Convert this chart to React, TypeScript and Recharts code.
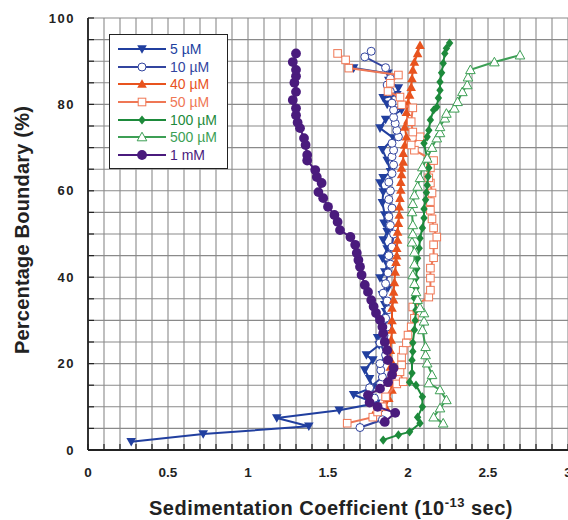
import React from 'react';
import { ScatterChart, Scatter, XAxis, YAxis, CartesianGrid, Legend, Label } from 'recharts';

type Pt = [number, number];

const xTicks = [
  0, 0.1, 0.2, 0.3, 0.4, 0.5, 0.6, 0.7, 0.8, 0.9, 1, 1.1, 1.2, 1.3, 1.4, 1.5,
  1.6, 1.7, 1.8, 1.9, 2, 2.1, 2.2, 2.3, 2.4, 2.5, 2.6, 2.7, 2.8, 2.9, 3,
];
const yTicks = [0, 5, 10, 15, 20, 25, 30, 35, 40, 45, 50, 55, 60, 65, 70, 75, 80, 85, 90, 95, 100];

// [sedimentation coefficient, % boundary]
const d5uM: Pt[] = [
  [0.27, 1.9], [0.72, 3.7], [1.38, 5.5], [1.18, 7.4], [1.57, 9.2], [1.8, 10.8], [1.66, 12.8],
  [1.78, 14.5], [1.76, 16.5], [1.73, 18.5], [1.78, 20.8], [1.74, 22], [1.82, 24.3], [1.81, 26],
  [1.84, 27.8], [1.82, 30], [1.86, 32], [1.855, 33.6], [1.84, 35.9], [1.875, 37.5], [1.825, 39.8],
  [1.855, 41.2], [1.87, 43], [1.84, 44.4], [1.87, 46.5], [1.845, 48.6], [1.87, 50.5], [1.85, 52.5],
  [1.855, 54.4], [1.84, 57.2], [1.845, 59.7], [1.825, 61.8], [1.845, 63], [1.89, 64.4], [1.87, 67],
  [1.84, 69.5], [1.91, 72.2], [1.825, 74.5], [1.86, 76.5], [1.96, 78.7], [1.87, 80], [1.845, 81.5],
  [1.93, 82.2], [1.94, 83.8], [1.88, 85.5], [1.875, 87.2], [1.66, 88.4],
];
const d10uM: Pt[] = [
  [1.7, 5.2], [1.84, 7], [1.82, 9.5], [1.79, 12], [1.76, 14.4], [1.84, 16.9], [1.83, 18.5],
  [1.825, 20], [1.86, 22], [1.825, 24.8], [1.85, 26.5], [1.87, 28.5], [1.86, 30.5], [1.88, 32.5],
  [1.87, 34.5], [1.845, 36.3], [1.86, 38.5], [1.875, 41], [1.89, 43], [1.88, 45], [1.9, 47],
  [1.91, 50], [1.89, 52], [1.88, 54], [1.9, 56], [1.88, 58], [1.89, 60], [1.88, 62], [1.9, 64],
  [1.91, 66], [1.9, 67.9], [1.91, 69.4], [1.9, 71], [1.94, 72.5], [1.93, 74], [1.92, 75.6],
  [1.91, 77], [1.91, 78.7], [1.9, 80.3], [1.89, 83], [1.87, 84.5], [1.89, 86], [1.86, 88.5],
  [1.73, 91], [1.77, 92.3],
];
const d40uM: Pt[] = [
  [1.78, 8], [1.86, 10], [1.88, 12], [1.9, 13.9], [1.89, 15.5], [1.895, 17.3], [1.89, 19.2],
  [1.89, 21], [1.89, 23.1], [1.895, 25.5], [1.9, 27.8], [1.9, 30], [1.9, 32.9], [1.91, 34.8],
  [1.91, 36.6], [1.915, 38.8], [1.92, 41.2], [1.925, 43.5], [1.93, 45], [1.93, 46.7], [1.935, 48.6],
  [1.935, 50.5], [1.94, 52.5], [1.945, 54.4], [1.945, 56.3], [1.95, 58.3], [1.955, 60.2],
  [1.955, 62], [1.96, 63.8], [1.96, 65.3], [1.97, 66.7], [1.97, 68.7], [1.98, 70.6], [1.99, 72.5],
  [1.98, 74.8], [2, 76.4], [1.99, 78.2], [2, 80.3], [2.01, 82.2], [2.02, 84], [2.025, 86],
  [2.03, 88], [2.04, 89.8], [2.06, 91.8], [2.075, 93.7],
];
const d50uM: Pt[] = [
  [1.62, 6.2], [1.78, 7.6], [1.81, 8.8], [1.84, 10], [1.86, 12.3], [1.93, 15.3], [1.97, 15.8],
  [1.95, 18.1], [1.96, 19.7], [1.96, 21.5], [1.97, 23.1], [1.99, 24.8], [2, 26.6], [2.02, 28.5],
  [2.04, 30.5], [2.03, 33.1], [2.13, 35.4], [2.14, 37], [2.14, 39.8], [2.14, 42.1], [2.16, 44.5],
  [2.16, 47.5], [2.18, 49.3], [2.16, 51.4], [2.15, 53.5], [2.14, 55.5], [2.14, 57.5], [2.15, 59.5],
  [2.14, 61.8], [2.13, 63], [2.14, 65.3], [2.16, 67], [2.04, 69.4], [2.02, 70.6], [2.075, 72.5],
  [2.03, 73.6], [2.02, 76], [2.03, 79.2], [1.96, 79.9], [1.95, 81.7], [1.875, 83], [1.89, 84.9],
  [1.94, 86.8], [1.63, 88.4], [1.61, 90.3], [1.56, 91.8],
];
const d100uM: Pt[] = [
  [1.845, 2.3], [1.94, 3.5], [2.01, 4.2], [2.075, 6.2], [2.06, 7.6], [2.09, 10], [2.09, 12.3],
  [2.05, 15], [2.01, 15.7], [2.025, 17.8], [2.025, 20.8], [2.03, 22.8], [2.03, 24.8], [2.04, 27.8],
  [2.045, 30], [2.05, 32.4], [2.04, 35.2], [2.05, 37.5], [2.05, 39.8], [2.055, 42], [2.06, 44.4],
  [2.07, 46.7], [2.075, 49], [2.09, 51.4], [2.1, 53.7], [2.1, 55.8], [2.11, 57.9], [2.115, 59.6],
  [2.12, 61.3], [2.125, 63.3], [2.13, 65.3], [2.12, 67.5], [2.1, 71], [2.12, 72.5], [2.13, 74],
  [2.14, 76.4], [2.16, 78.7], [2.18, 79.4], [2.19, 81.5], [2.2, 83.3], [2.2, 85.2], [2.21, 87.3],
  [2.22, 89.5], [2.23, 91.8], [2.24, 93], [2.26, 94.2],
];
const d500uM: Pt[] = [
  [2.22, 6.2], [2.16, 7.6], [2.2, 9.7], [2.24, 11.6], [2.2, 13.9], [2.13, 15.5], [2.15, 17.4],
  [2.12, 20.1], [2.11, 22], [2.11, 23.9], [2.09, 27.8], [2.1, 29.8], [2.1, 31.7], [2.075, 32.9],
  [2.06, 34.8], [2.05, 36.6], [2.04, 38.5], [2.03, 40.5], [2.04, 43], [2.04, 45.8], [2.025, 48.1],
  [2.03, 50], [2.03, 52.1], [2.025, 55.1], [2.03, 57], [2.04, 59], [2.06, 61], [2.075, 63],
  [2.09, 65.5], [2.12, 67.5], [2.15, 70], [2.18, 72.2], [2.2, 73.4], [2.2, 74.8], [2.23, 76.8],
  [2.24, 77.9], [2.29, 79.1], [2.31, 80.6], [2.34, 82.9], [2.37, 84.5], [2.375, 86.3], [2.39, 88],
  [2.54, 89.8], [2.7, 91.4],
];
const d1mM: Pt[] = [
  [1.855, 6.5], [1.92, 8.6], [1.81, 10], [1.76, 11], [1.75, 12.7], [1.825, 14.2], [1.875, 15.7],
  [1.9, 17.4], [1.91, 19], [1.875, 20.8], [1.87, 23.1], [1.855, 25], [1.845, 27], [1.84, 28.5],
  [1.825, 30.1], [1.8, 31.7], [1.785, 33.2], [1.77, 34.7], [1.75, 36.6], [1.73, 38.2], [1.71, 40.5],
  [1.7, 42.4], [1.69, 44], [1.68, 45.6], [1.67, 47.5], [1.64, 49.3], [1.575, 50.9], [1.56, 52.8],
  [1.54, 54.4], [1.5, 56.3], [1.47, 58.3], [1.44, 59.7], [1.46, 61.8], [1.43, 63.2], [1.42, 64.8],
  [1.37, 67], [1.37, 68.3], [1.36, 70.6], [1.35, 72.2], [1.325, 74.5], [1.31, 75.8], [1.3, 77.5],
  [1.3, 79.1], [1.28, 81], [1.3, 82.9], [1.29, 85], [1.3, 86.5], [1.3, 88], [1.28, 89.8],
  [1.3, 91.8],
];

const series = [
  { name: '5 µM', points: d5uM, color: '#213f9f', kind: 'triDown' },
  { name: '10 µM', points: d10uM, color: '#33459f', kind: 'circleOpen' },
  { name: '40 µM', points: d40uM, color: '#e8531e', kind: 'triUp' },
  { name: '50 µM', points: d50uM, color: '#ef7755', kind: 'squareOpen' },
  { name: '100 µM', points: d100uM, color: '#1d8a3b', kind: 'diamond' },
  { name: '500 µM', points: d500uM, color: '#3d9f55', kind: 'triUpOpen' },
  { name: '1 mM', points: d1mM, color: '#4a1b7d', kind: 'circle' },
];

const font = '"Liberation Sans", Arial, Helvetica, sans-serif';

const Marker = ({ cx, cy, kind, color }: { cx: number; cy: number; kind: string; color: string }) => {
  if (cx == null || cy == null) return null;
  switch (kind) {
    case 'triDown':
      return <polygon points={`${cx - 4.8},${cy - 3.8} ${cx + 4.8},${cy - 3.8} ${cx},${cy + 4.8}`} fill={color} />;
    case 'circleOpen':
      return <circle cx={cx} cy={cy} r={4} fill="#fff" stroke={color} strokeWidth={1} />;
    case 'triUp':
      return <polygon points={`${cx},${cy - 4.8} ${cx + 4.8},${cy + 3.8} ${cx - 4.8},${cy + 3.8}`} fill={color} />;
    case 'squareOpen':
      return <rect x={cx - 3.8} y={cy - 3.8} width={7.6} height={7.6} fill="#fff" stroke={color} strokeWidth={1} />;
    case 'diamond':
      return <polygon points={`${cx},${cy - 4.6} ${cx + 3.7},${cy} ${cx},${cy + 4.6} ${cx - 3.7},${cy}`} fill={color} />;
    case 'triUpOpen':
      return (
        <polygon
          points={`${cx},${cy - 4.8} ${cx + 4.8},${cy + 3.8} ${cx - 4.8},${cy + 3.8}`}
          fill="#fff"
          stroke={color}
          strokeWidth={1}
        />
      );
    default:
      return <circle cx={cx} cy={cy} r={4.9} fill={color} />;
  }
};

const fmtX = (v: number) => String(Math.round(v * 10) / 10);

const XTick = (props: any) => {
  const { x, y, payload } = props;
  const v = payload.value;
  const major = Math.abs(v * 2 - Math.round(v * 2)) < 1e-6;
  return (
    <g>
      <line x1={x} y1={y} x2={x} y2={y - 6} stroke="#222" strokeWidth={1.2} />
      {major && (
        <text x={x} y={y + 27} textAnchor="middle" fontFamily={font} fontWeight="bold" fontSize={13.5} fill="#222">
          {fmtX(v)}
        </text>
      )}
    </g>
  );
};

const YTick = (props: any) => {
  const { x, y, payload } = props;
  const v = payload.value;
  return (
    <g>
      <line x1={x} y1={y} x2={x + 6} y2={y} stroke="#222" strokeWidth={1.2} />
      {v % 20 === 0 && (
        <text
          x={x - 13}
          y={y + 4.5}
          textAnchor="end"
          fontFamily={font}
          fontWeight="bold"
          fontSize={13}
          letterSpacing={1.5}
          fill="#222"
        >
          {v}
        </text>
      )}
    </g>
  );
};

const LegendBox = () => (
  <div
    style={{
      border: '1.5px solid #222',
      background: '#fff',
      padding: '5px 10px 4px 8px',
      fontFamily: font,
      fontSize: 14,
    }}
  >
    {series.map((s) => (
      <div key={s.name} style={{ display: 'flex', alignItems: 'center', height: 17.7 }}>
        <svg width={48} height={12} style={{ marginRight: 4 }}>
          <line x1={0} y1={6} x2={48} y2={6} stroke={s.color} strokeWidth={2} />
          <Marker cx={24} cy={6} kind={s.kind} color={s.color} />
        </svg>
        <span style={{ color: s.color, whiteSpace: 'nowrap' }}>{s.name}</span>
      </div>
    ))}
  </div>
);

export default function App() {
  return (
    <div style={{ position: 'absolute', left: 0, top: 0, width: 568, height: 520, overflow: 'hidden', background: '#fff' }}>
      <ScatterChart width={580} height={520} margin={{ top: 18, right: 12, bottom: 0, left: 28 }}>
        <CartesianGrid stroke="#8a8a8a" strokeWidth={1.1} />
        <XAxis
          type="number"
          dataKey="x"
          domain={[0, 3]}
          ticks={xTicks}
          interval={0}
          allowDataOverflow
          height={70}
          tickSize={0}
          tickMargin={0}
          tickLine={false}
          tick={<XTick />}
          axisLine={{ stroke: '#222', strokeWidth: 1.8 }}
        >
          <Label
            content={() => (
              <text
                x={331}
                y={515}
                textAnchor="middle"
                fontFamily={font}
                fontWeight="bold"
                fontSize={20}
                letterSpacing={0.5}
                fill="#222"
              >
                Sedimentation Coefficient (10
                <tspan dy={-8} fontSize={13}>-13</tspan>
                <tspan dy={8}> sec)</tspan>
              </text>
            )}
          />
        </XAxis>
        <YAxis
          type="number"
          dataKey="y"
          domain={[0, 100]}
          ticks={yTicks}
          interval={0}
          allowDataOverflow
          width={60}
          tickSize={0}
          tickMargin={0}
          tickLine={false}
          tick={<YTick />}
          axisLine={{ stroke: '#222', strokeWidth: 1.8 }}
        >
          <Label
            content={() => (
              <text
                x={29}
                y={230}
                transform="rotate(-90 29 230)"
                textAnchor="middle"
                fontFamily={font}
                fontWeight="bold"
                fontSize={20}
                letterSpacing={0.2}
                fill="#222"
              >
                Percentage Boundary (%)
              </text>
            )}
          />
        </YAxis>
        <Legend
          layout="vertical"
          align="center"
          verticalAlign="middle"
          content={() => <LegendBox />}
          wrapperStyle={{ left: 109, top: 34, width: 'auto' }}
        />
        {series.map((s) => (
          <Scatter
            key={s.name}
            name={s.name}
            data={s.points.map(([x, y]) => ({ x, y }))}
            fill={s.color}
            line={{ stroke: s.color, strokeWidth: 2 }}
            shape={(p: any) => <Marker cx={p.cx} cy={p.cy} kind={s.kind} color={s.color} />}
            isAnimationActive={false}
          />
        ))}
      </ScatterChart>
    </div>
  );
}
